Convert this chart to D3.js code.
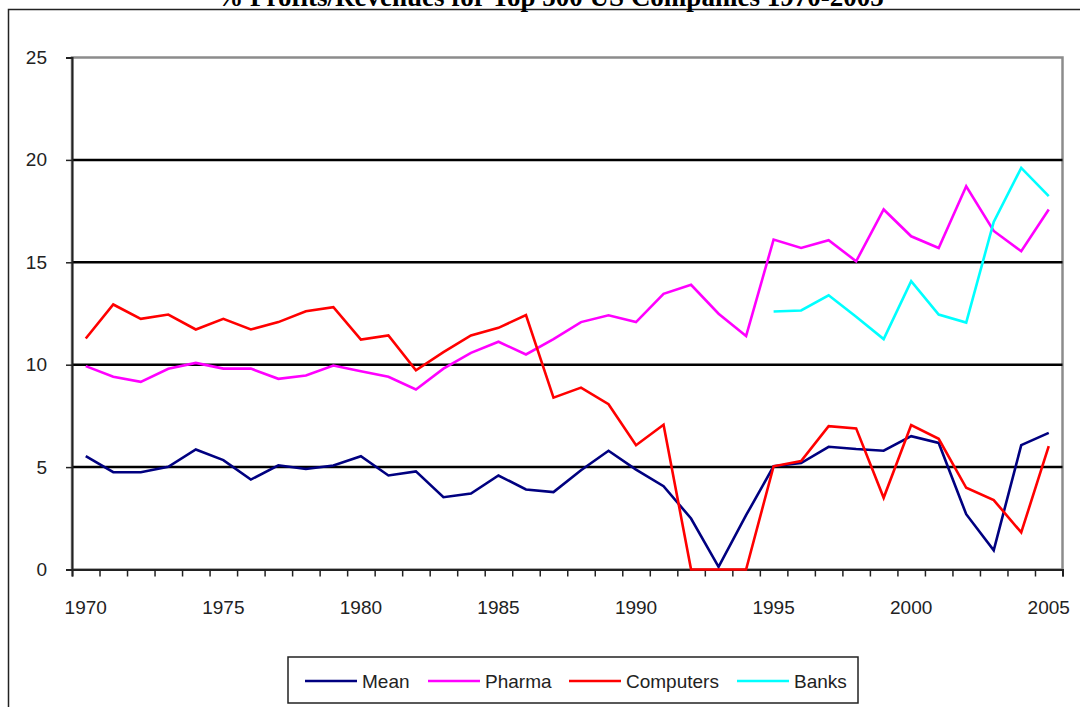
<!DOCTYPE html>
<html>
<head>
<meta charset="utf-8">
<script src="https://cdn.jsdelivr.net/npm/d3@7"></script>
<style>
  html, body { margin: 0; padding: 0; background: #fff; }
  svg { display: block; }
</style>
</head>
<body>
<svg id="chart" width="1080" height="707"></svg>
<script>
const years = d3.range(1970, 2006);
const labelYears = [1970, 1975, 1980, 1985, 1990, 1995, 2000, 2005];
const yTicks = [0, 5, 10, 15, 20, 25];

const mean = [5.53, 4.75, 4.75, 5.01, 5.86, 5.34, 4.39, 5.09, 4.91, 5.08,
              5.53, 4.59, 4.79, 3.53, 3.71, 4.59, 3.91, 3.78, 4.85, 5.80,
              4.88, 4.07, 2.49, 0.13, 2.65, 5.04, 5.20, 5.99, 5.88, 5.80,
              6.51, 6.18, 2.70, 0.94, 6.07, 6.67];
const pharma = [9.93, 9.41, 9.16, 9.80, 10.09, 9.81, 9.81, 9.31, 9.47, 9.96,
                9.68, 9.41, 8.79, 9.81, 10.58, 11.12, 10.50, 11.25, 12.08, 12.41,
                12.08, 13.46, 13.90, 12.49, 11.40, 16.11, 15.70, 16.08, 15.05, 17.58,
                16.27, 15.70, 18.71, 16.53, 15.54, 17.58];
const computers = [11.28, 12.94, 12.24, 12.45, 11.72, 12.24, 11.72, 12.08, 12.61, 12.81,
                   11.23, 11.43, 9.73, 10.61, 11.43, 11.80, 12.42, 8.39, 8.88, 8.07,
                   6.07, 7.07, 0, 0, 0, 5.04, 5.30, 7.00, 6.89, 3.50,
                   7.05, 6.38, 3.99, 3.39, 1.81, 6.02];
const banks = [null, null, null, null, null, null, null, null, null, null,
               null, null, null, null, null, null, null, null, null, null,
               null, null, null, null, null, 12.60, 12.65, 13.39, 12.34, 11.25,
               14.08, 12.45, 12.06, 16.97, 19.61, 18.23];

const seriesNames = ["Mean", "Pharma", "Computers", "Banks"];
const seriesColors = ["#000080", "#ff00ff", "#ff0000", "#00ffff"];
const seriesData = [mean, pharma, computers, banks];

const title = "% Profits/Revenues for Top 500 US Companies 1970-2005";

const svg = d3.select("#chart");
const L = 72, R = 1062.5, T = 57.5, B = 569.5;
const sans = "'Liberation Sans', Arial, sans-serif";

// outer chart border
svg.append("rect").attr("x", 8.5).attr("y", 9.5).attr("width", 1100).attr("height", 800)
  .attr("fill", "#fff").attr("stroke", "#222").attr("stroke-width", 1.5);

// title
svg.append("text").attr("x", 550).attr("y", 6).attr("text-anchor", "middle")
  .attr("font-family", "'Liberation Serif', 'Times New Roman', serif")
  .attr("font-weight", "bold").attr("font-size", 27).attr("fill", "#000")
  .text(title);

const x = d3.scaleBand().domain(years).range([L, R]).padding(0);
const xb = d3.scaleLinear().domain([0, years.length]).range([L, R]);
const y = d3.scaleLinear().domain([0, 25]).range([B, T]);
const cx = d => x(d) + x.bandwidth() / 2;

// plot area border (gray)
svg.append("rect").attr("x", L).attr("y", T).attr("width", R - L).attr("height", B - T)
  .attr("fill", "#fff").attr("stroke", "#8c8c8c").attr("stroke-width", 2.5);

// gridlines
svg.append("g").selectAll("line").data([5, 10, 15, 20]).join("line")
  .attr("x1", L).attr("x2", R).attr("y1", d => y(d)).attr("y2", d => y(d))
  .attr("stroke", "#000").attr("stroke-width", 2.5);

// y axis
const yAxis = svg.append("g").attr("transform", `translate(${L},0)`)
  .call(d3.axisLeft(y).tickValues(yTicks).tickSize(6).tickPadding(19));
yAxis.select(".domain").attr("stroke", "#222").attr("stroke-width", 2);
yAxis.selectAll(".tick line").attr("stroke", "#222").attr("stroke-width", 1.5);
yAxis.selectAll(".tick text").attr("font-family", sans)
  .attr("font-size", 19).attr("fill", "#222");

// x axis ticks at category boundaries
const xTickAxis = svg.append("g").attr("transform", `translate(0,${B})`)
  .call(d3.axisBottom(xb).tickValues(d3.range(years.length + 1)).tickSize(7).tickFormat(""));
xTickAxis.select(".domain").attr("stroke", "#222").attr("stroke-width", 2);
xTickAxis.selectAll(".tick line").attr("stroke", "#222").attr("stroke-width", 1.5);

// x labels
const xLab = svg.append("g").attr("transform", `translate(0,${B})`)
  .call(d3.axisBottom(x).tickValues(labelYears).tickSize(0).tickPadding(31));
xLab.select(".domain").remove();
xLab.selectAll(".tick text").attr("font-family", sans)
  .attr("font-size", 19).attr("fill", "#222");

// lines
const line = d3.line().defined(d => d.v !== null).x(d => cx(d.year)).y(d => y(d.v));
seriesData.forEach((arr, i) => {
  const pts = years.map((yr, j) => ({ year: yr, v: arr[j] }));
  svg.append("path").datum(pts).attr("d", line).attr("fill", "none")
    .attr("stroke", seriesColors[i]).attr("stroke-width", 2.6).attr("stroke-linejoin", "miter");
});

// legend
const lg = svg.append("g");
lg.append("rect").attr("x", 288).attr("y", 657).attr("width", 570).attr("height", 46)
  .attr("fill", "#fff").attr("stroke", "#222").attr("stroke-width", 1.5);
const legX = [305, 428, 569, 737];
seriesNames.forEach((n, i) => {
  lg.append("line").attr("x1", legX[i]).attr("x2", legX[i] + 52).attr("y1", 681).attr("y2", 681)
    .attr("stroke", seriesColors[i]).attr("stroke-width", 2.6);
  lg.append("text").attr("x", legX[i] + 57).attr("y", 688)
    .attr("font-family", sans).attr("font-size", 19)
    .attr("fill", "#222").text(n);
});
</script>
</body>
</html>
